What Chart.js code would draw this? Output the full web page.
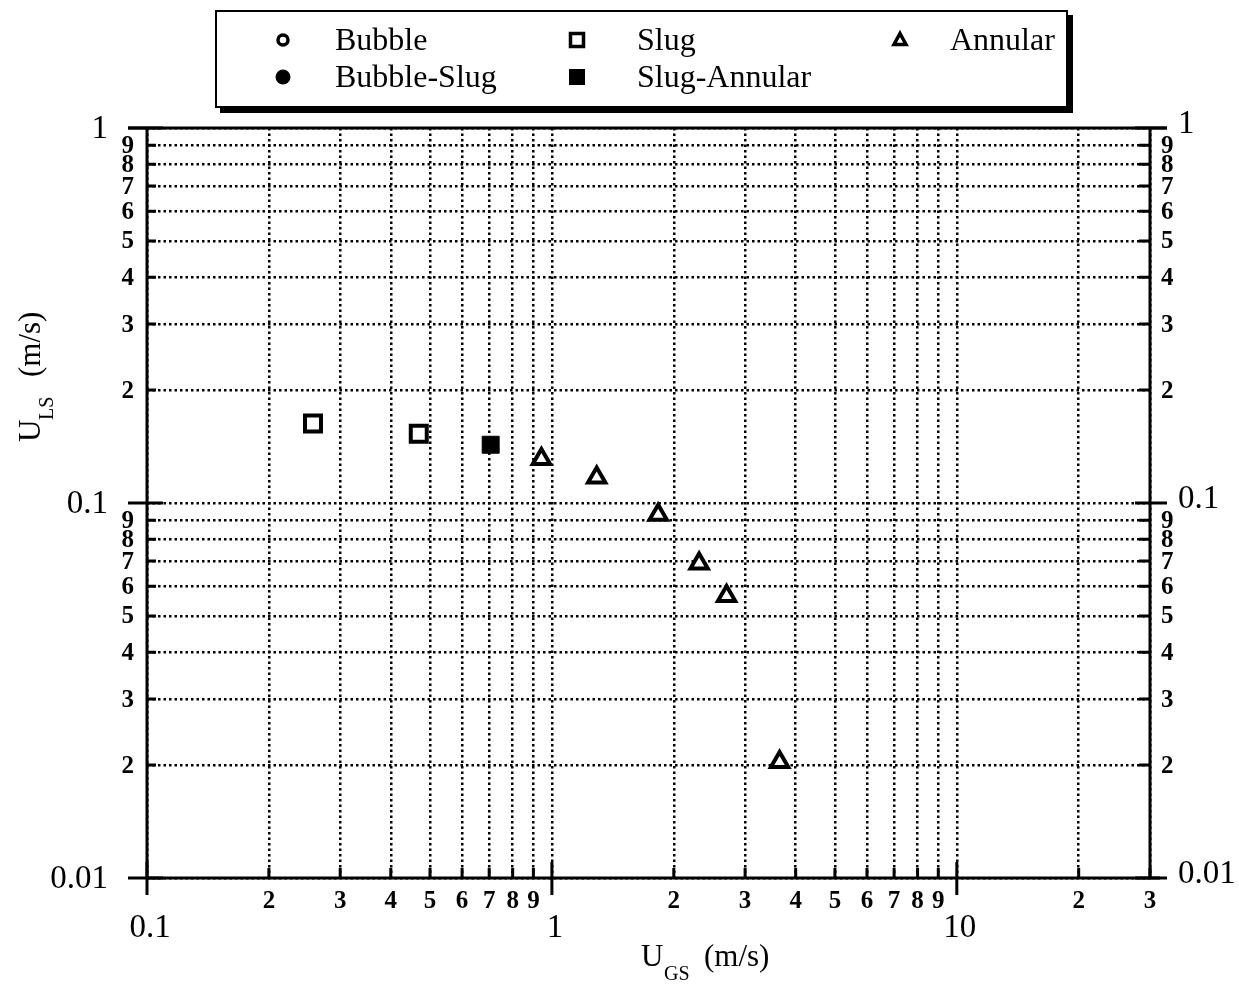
<!DOCTYPE html>
<html lang="en">
<head>
<meta charset="UTF-8">
<title>U_LS vs U_GS flow regimes</title>
<script src="https://cdn.jsdelivr.net/npm/chart.js"></script>
<style>
    html, body { margin: 0; padding: 0; background: #fff; }
    #wrap {
        position: relative;
        width: 1239px;
        height: 984px;
        font-family: "Liberation Serif", "DejaVu Serif", serif;
    }
    #plot { position: absolute; left: 0; top: 0; }
    #legend {
        position: absolute;
        left: 215px;
        top: 10px;
        width: 849px;
        height: 94px;
        border: 2px solid #000;
        box-shadow: 5px 5px 0 #000;
        background: #fff;
    }
    .lg-text {
        position: absolute;
        font-size: 32px;
        line-height: 32px;
        white-space: nowrap;
        color: #000;
    }
    .lg-mark { position: absolute; width: 24px; height: 24px; }
</style>
</head>
<body>
<div id="wrap">
    <canvas id="plot" width="1239" height="984"></canvas>
    <div id="legend"></div>
</div>

<script>
// tick values and their printed labels
const xTickValues = [0.1, 0.2, 0.3, 0.4, 0.5, 0.6, 0.7, 0.8, 0.9, 1, 2, 3, 4, 5, 6, 7, 8, 9, 10, 20, 30];
const xTickLabels = ['0.1', '2', '3', '4', '5', '6', '7', '8', '9', '1', '2', '3', '4', '5', '6', '7', '8', '9', '10', '2', '3'];
const yTickValues = [0.01, 0.02, 0.03, 0.04, 0.05, 0.06, 0.07, 0.08, 0.09, 0.1, 0.2, 0.3, 0.4, 0.5, 0.6, 0.7, 0.8, 0.9, 1];
const yTickLabels = ['0.01', '2', '3', '4', '5', '6', '7', '8', '9', '0.1', '2', '3', '4', '5', '6', '7', '8', '9', '1'];

// series (U_GS, U_LS) in m/s
const seriesNames = ['Bubble', 'Bubble-Slug', 'Slug', 'Slug-Annular', 'Annular'];
const bubbleX = [];
const bubbleY = [];
const bubbleSlugX = [];
const bubbleSlugY = [];
const slugX = [0.257, 0.469];
const slugY = [0.163, 0.153];
const slugAnnularX = [0.706];
const slugAnnularY = [0.143];
const annularX = [0.942, 1.29, 1.83, 2.31, 2.70, 3.65];
const annularY = [0.131, 0.117, 0.093, 0.069, 0.0565, 0.0204];

const seriesX = [bubbleX, bubbleSlugX, slugX, slugAnnularX, annularX];
const seriesY = [bubbleY, bubbleSlugY, slugY, slugAnnularY, annularY];
const seriesStyle = ['circle', 'circle', 'rect', 'rect', 'triangle'];
const seriesFilled = [false, true, false, true, false];
const seriesRadius = [7, 7, 11.3, 12, 10];

const toPoints = (xs, ys) => xs.map((x, i) => ({ x: x, y: ys[i] }));
const isMajor = v => Math.abs(Math.log10(v) - Math.round(Math.log10(v))) < 1e-9;

const datasets = seriesNames.map((name, i) => ({
    label: name,
    data: toPoints(seriesX[i], seriesY[i]),
    pointStyle: seriesStyle[i],
    pointRadius: seriesRadius[i],
    pointHoverRadius: seriesRadius[i],
    borderColor: '#000',
    backgroundColor: seriesFilled[i] ? '#000' : '#fff',
    pointBorderWidth: seriesFilled[i] ? 1 : 4,
    showLine: false
}));

const SERIF = '"Liberation Serif", "DejaVu Serif", serif';

// axis frame, tick marks, tick labels and titles
const framePlugin = {
    id: 'frame',
    afterDraw(chart) {
        const ctx = chart.ctx;
        const a = chart.chartArea;
        const xs = chart.scales.x;
        const ys = chart.scales.y;
        ctx.save();
        ctx.strokeStyle = '#000';
        ctx.fillStyle = '#000';
        ctx.lineWidth = 3;
        ctx.lineCap = 'butt';

        ctx.beginPath();
        ctx.moveTo(a.left - 19, a.top); ctx.lineTo(a.right + 17, a.top);
        ctx.moveTo(a.left, a.top); ctx.lineTo(a.left, a.bottom);
        ctx.moveTo(a.right, a.top); ctx.lineTo(a.right, a.bottom);
        ctx.moveTo(a.left, a.bottom); ctx.lineTo(a.right + 10, a.bottom);
        ctx.stroke();

        // y ticks, both sides
        ctx.beginPath();
        yTickValues.forEach(v => {
            const p = ys.getPixelForValue(v);
            if (isMajor(v)) {
                ctx.moveTo(a.left - 19, p); ctx.lineTo(a.left + 16, p);
                ctx.moveTo(a.right - 15, p); ctx.lineTo(a.right + 17, p);
            } else {
                ctx.moveTo(a.left, p); ctx.lineTo(a.left + 9, p);
                ctx.moveTo(a.right - 11, p); ctx.lineTo(a.right, p);
            }
        });
        // x ticks
        xTickValues.forEach(v => {
            const p = xs.getPixelForValue(v);
            if (isMajor(v)) {
                ctx.moveTo(p, a.bottom - 16); ctx.lineTo(p, a.bottom + 17);
            } else {
                ctx.moveTo(p, a.bottom - 10); ctx.lineTo(p, a.bottom);
            }
        });
        ctx.stroke();

        // y labels
        ctx.textBaseline = 'middle';
        yTickValues.forEach((v, i) => {
            const p = ys.getPixelForValue(v);
            if (isMajor(v)) {
                ctx.font = '33px ' + SERIF;
                ctx.textAlign = 'right';
                ctx.fillText(yTickLabels[i], a.left - 39, p + 1);
                ctx.textAlign = 'left';
                ctx.fillText(yTickLabels[i], a.right + 28, p - 4);
            } else {
                ctx.font = 'bold 25px ' + SERIF;
                ctx.textAlign = 'right';
                ctx.fillText(yTickLabels[i], a.left - 13, p + 1);
                ctx.textAlign = 'left';
                ctx.fillText(yTickLabels[i], a.right + 11, p + 1);
            }
        });

        // x labels
        ctx.textAlign = 'center';
        xTickValues.forEach((v, i) => {
            const p = xs.getPixelForValue(v);
            if (isMajor(v)) {
                ctx.font = '33px ' + SERIF;
                ctx.fillText(xTickLabels[i], p + 3, a.bottom + 50);
            } else {
                ctx.font = 'bold 25px ' + SERIF;
                ctx.fillText(xTickLabels[i], p, a.bottom + 24);
            }
        });

        // x title: U_GS (m/s)
        ctx.textAlign = 'left';
        ctx.textBaseline = 'alphabetic';
        ctx.font = '31px ' + SERIF;
        ctx.fillText('U', 641, 966);
        ctx.fillText('(m/s)', 704, 966);
        ctx.font = '20px ' + SERIF;
        ctx.fillText('GS', 664, 980);

        // y title: U_LS (m/s), rotated
        ctx.translate(40, 442);
        ctx.rotate(-Math.PI / 2);
        ctx.font = '31px ' + SERIF;
        ctx.fillText('U', 0, 0);
        ctx.fillText('(m/s)', 65, 0);
        ctx.font = '20px ' + SERIF;
        ctx.fillText('LS', 22, 13);
        ctx.restore();
    }
};

new Chart(document.getElementById('plot').getContext('2d'), {
    type: 'scatter',
    data: { datasets: datasets },
    options: {
        responsive: false,
        animation: false,
        layout: { padding: { left: 0, top: 128, right: 89, bottom: 0 } },
        scales: {
            x: {
                type: 'logarithmic',
                min: 0.1,
                max: 30,
                afterBuildTicks: s => { s.ticks = xTickValues.map(v => ({ value: v })); },
                afterFit: s => { s.height = 106; },
                ticks: { display: false },
                grid: { color: '#000', lineWidth: 2.5, drawTicks: false },
                border: { display: false, dash: [2.5, 3] }
            },
            y: {
                type: 'logarithmic',
                min: 0.01,
                max: 1,
                afterBuildTicks: s => { s.ticks = yTickValues.map(v => ({ value: v })); },
                afterFit: s => { s.width = 147; },
                ticks: { display: false },
                grid: { color: '#000', lineWidth: 2.5, drawTicks: false },
                border: { display: false, dash: [2.5, 3] }
            }
        },
        plugins: {
            legend: { display: false },
            tooltip: { enabled: false }
        }
    },
    plugins: [framePlugin]
});

// html legend, three columns as in the original
const legendSlots = [
    { mx: 283, tx: 335, y: 40 },
    { mx: 283, tx: 335, y: 77 },
    { mx: 577, tx: 637, y: 40 },
    { mx: 577, tx: 637, y: 77 },
    { mx: 900, tx: 950, y: 40 }
];

function markerSvg(style, filled) {
    let shape;
    if (style === 'circle') {
        shape = filled
            ? '<circle cx="12" cy="12" r="7.5" fill="#000"/>'
            : '<circle cx="12" cy="12" r="5" fill="#fff" stroke="#000" stroke-width="3.5"/>';
    } else if (style === 'rect') {
        shape = filled
            ? '<rect x="4" y="4" width="16" height="16" fill="#000"/>'
            : '<rect x="5.5" y="5.5" width="13" height="13" fill="#fff" stroke="#000" stroke-width="3.5"/>';
    } else {
        shape = '<polygon points="12,5.5 18,16.5 6,16.5" fill="#fff" stroke="#000" stroke-width="3.5" stroke-linejoin="miter"/>';
    }
    return '<svg class="lg-mark" viewBox="0 0 24 24" width="24" height="24">' + shape + '</svg>';
}

const legendEl = document.getElementById('legend');
const boxLeft = 217, boxTop = 12;
seriesNames.forEach((name, i) => {
    const slot = legendSlots[i];
    const m = document.createElement('div');
    m.innerHTML = markerSvg(seriesStyle[i], seriesFilled[i]);
    const svg = m.firstChild;
    svg.style.left = (slot.mx - 12 - boxLeft) + 'px';
    svg.style.top = (slot.y - 12 - boxTop) + 'px';
    legendEl.appendChild(svg);
    const t = document.createElement('div');
    t.className = 'lg-text';
    t.textContent = name;
    t.style.left = (slot.tx - boxLeft) + 'px';
    t.style.top = (slot.y - 17 - boxTop) + 'px';
    legendEl.appendChild(t);
});
</script>
</body>
</html>
